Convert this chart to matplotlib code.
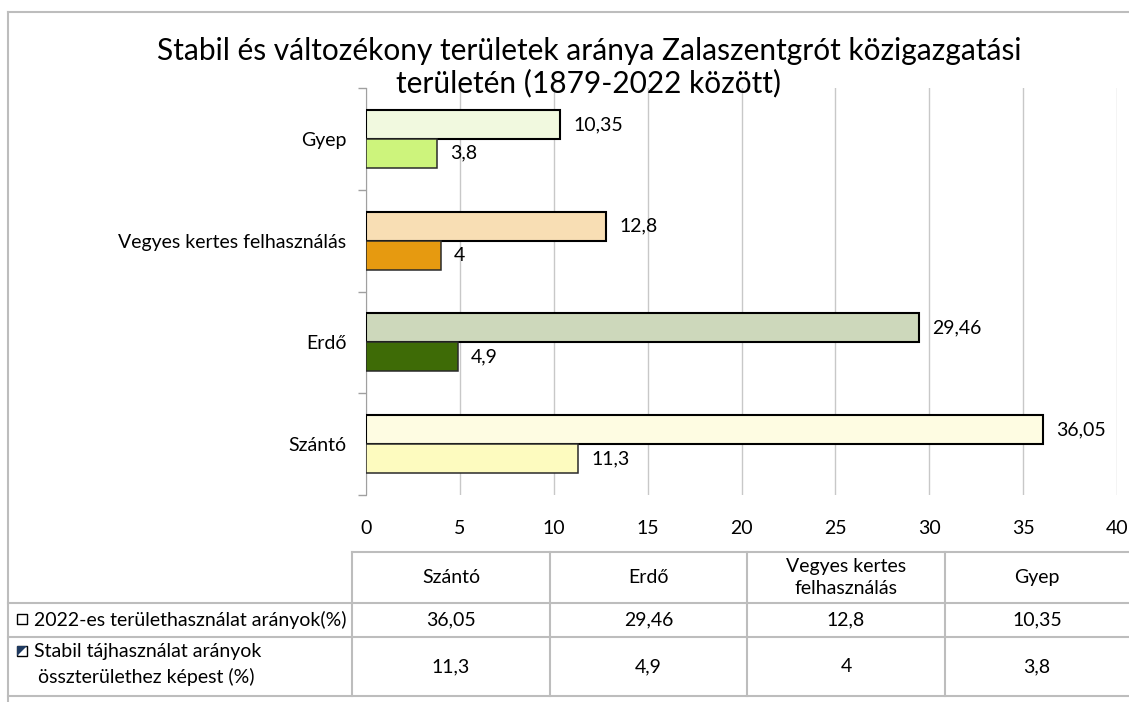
import matplotlib
matplotlib.use("Agg")
import matplotlib.pyplot as plt
from matplotlib.patches import Rectangle, Polygon
from matplotlib.lines import Line2D

plt.rcParams["font.family"] = ["Lato", "DejaVu Sans"]

# ---------------------------------------------------------------------------
# Data (bottom to top in the chart)
# ---------------------------------------------------------------------------
categories = ["Szántó", "Erdő", "Vegyes kertes felhasználás", "Gyep"]
table_headers = ["Szántó", "Erdő", "Vegyes kertes\nfelhasználás", "Gyep"]
share_2022 = [36.05, 29.46, 12.8, 10.35]
share_stable = [11.3, 4.9, 4.0, 3.8]
series_names = ["2022-es területhasználat arányok(%)",
                "Stabil tájhasználat arányok\n  összterülethez képest (%)"]

colors_2022 = ["#fefce2", "#cdd8bb", "#f8deb4", "#f1f9df"]
colors_stable = ["#fdfbbf", "#3e6b06", "#e69a10", "#cdf47c"]

title = ("Stabil és változékony területek aránya Zalaszentgrót közigazgatási\n"
         "területén (1879-2022 között)")

FS = 14  # body font size


def fmt(v):
    # Hungarian decimal comma, drop trailing zeros
    s = f"{v:.2f}".rstrip("0").rstrip(".")
    return s.replace(".", ",")


W, H = 1129, 702
fig = plt.figure(figsize=(W / 100, H / 100), dpi=100)

# overlay axes in pixel coordinates for frame / table
ov = fig.add_axes([0, 0, 1, 1])
ov.set_xlim(0, W)
ov.set_ylim(H, 0)
ov.axis("off")

# ---------------------------------------------------------------------------
# Bar chart
# ---------------------------------------------------------------------------
ax = fig.add_axes([366 / W, 1 - 495 / H, (1117 - 366) / W, (495 - 88) / H])
h = 0.285
ypos = list(range(len(categories)))
for i, y in enumerate(ypos):
    ax.barh(y + h / 2, share_2022[i], height=h, color=colors_2022[i],
            edgecolor="black", linewidth=1.5, zorder=3)
    ax.barh(y - h / 2, share_stable[i], height=h, color=colors_stable[i],
            edgecolor="#2a2a2a", linewidth=1.1, zorder=3)
    ax.text(share_2022[i] + 0.7, y + h / 2, fmt(share_2022[i]),
            va="center", ha="left", fontsize=FS)
    ax.text(share_stable[i] + 0.7, y - h / 2, fmt(share_stable[i]),
            va="center", ha="left", fontsize=FS)

ax.set_xlim(0, 40)
ax.set_ylim(-0.5, len(categories) - 0.5)
ax.set_xticks(range(0, 41, 5))
ax.set_yticks(ypos)
ax.set_yticklabels(categories)
ax.set_yticks([y - 0.5 for y in ypos] + [len(categories) - 0.5], minor=True)
ax.tick_params(axis="y", which="major", length=0, pad=14, labelsize=FS)
ax.tick_params(axis="y", which="minor", length=6, color="#a0a0a0", width=1)
ax.tick_params(axis="x", length=0, pad=18, labelsize=FS)
ax.grid(axis="x", color="#c8c8c8", linewidth=1, zorder=0)
for s in ["top", "right", "bottom"]:
    ax.spines[s].set_visible(False)
ax.spines["left"].set_color("#a0a0a0")
ax.set_facecolor("none")

fig.text(589 / W, 1 - 67 / H, title, ha="center", va="center",
         fontsize=21.5, linespacing=1.17)

# ---------------------------------------------------------------------------
# Frame and data table
# ---------------------------------------------------------------------------
grey = "#bdbdbd"
ov.add_line(Line2D([8, W], [12, 12], color=grey, lw=1.5))
ov.add_line(Line2D([8, 8], [12, H], color=grey, lw=1.5))

col_x = [352, 550, 747, 945, W]
row_y = [552, 603, 637, 696]
ov.add_line(Line2D([352, W], [row_y[0], row_y[0]], color=grey, lw=1.5))
for ry in row_y[1:]:
    ov.add_line(Line2D([8, W], [ry, ry], color=grey, lw=1.5))
for cx in col_x[:-1]:
    ov.add_line(Line2D([cx, cx], [row_y[0], row_y[-1]], color=grey, lw=1.5))

for j in range(len(table_headers)):
    cx = (col_x[j] + col_x[j + 1]) / 2
    ov.text(cx, (row_y[0] + row_y[1]) / 2, table_headers[j], ha="center",
            va="center", fontsize=FS, linespacing=1.3)
    ov.text(cx, (row_y[1] + row_y[2]) / 2, fmt(share_2022[j]), ha="center",
            va="center", fontsize=FS)
    ov.text(cx, (row_y[2] + row_y[3]) / 2, fmt(share_stable[j]), ha="center",
            va="center", fontsize=FS)

# row labels with small legend keys
ov.add_patch(Rectangle((17, 614), 10, 10, facecolor="white",
                       edgecolor="black", lw=1))
ov.text(34, (row_y[1] + row_y[2]) / 2, series_names[0], ha="left",
        va="center", fontsize=FS)
ov.add_patch(Rectangle((17, 646), 10, 10, facecolor="white",
                       edgecolor="black", lw=1))
ov.add_patch(Polygon([[17, 656], [17, 646], [27, 646]], closed=True,
                     facecolor="#1f3a60", edgecolor="none"))
ov.text(34, 651, series_names[1].split("\n")[0], ha="left", va="center",
        fontsize=FS)
ov.text(38, 677, series_names[1].split("\n")[1].strip(), ha="left",
        va="center", fontsize=FS)

fig.savefig("out.png", dpi=100)
